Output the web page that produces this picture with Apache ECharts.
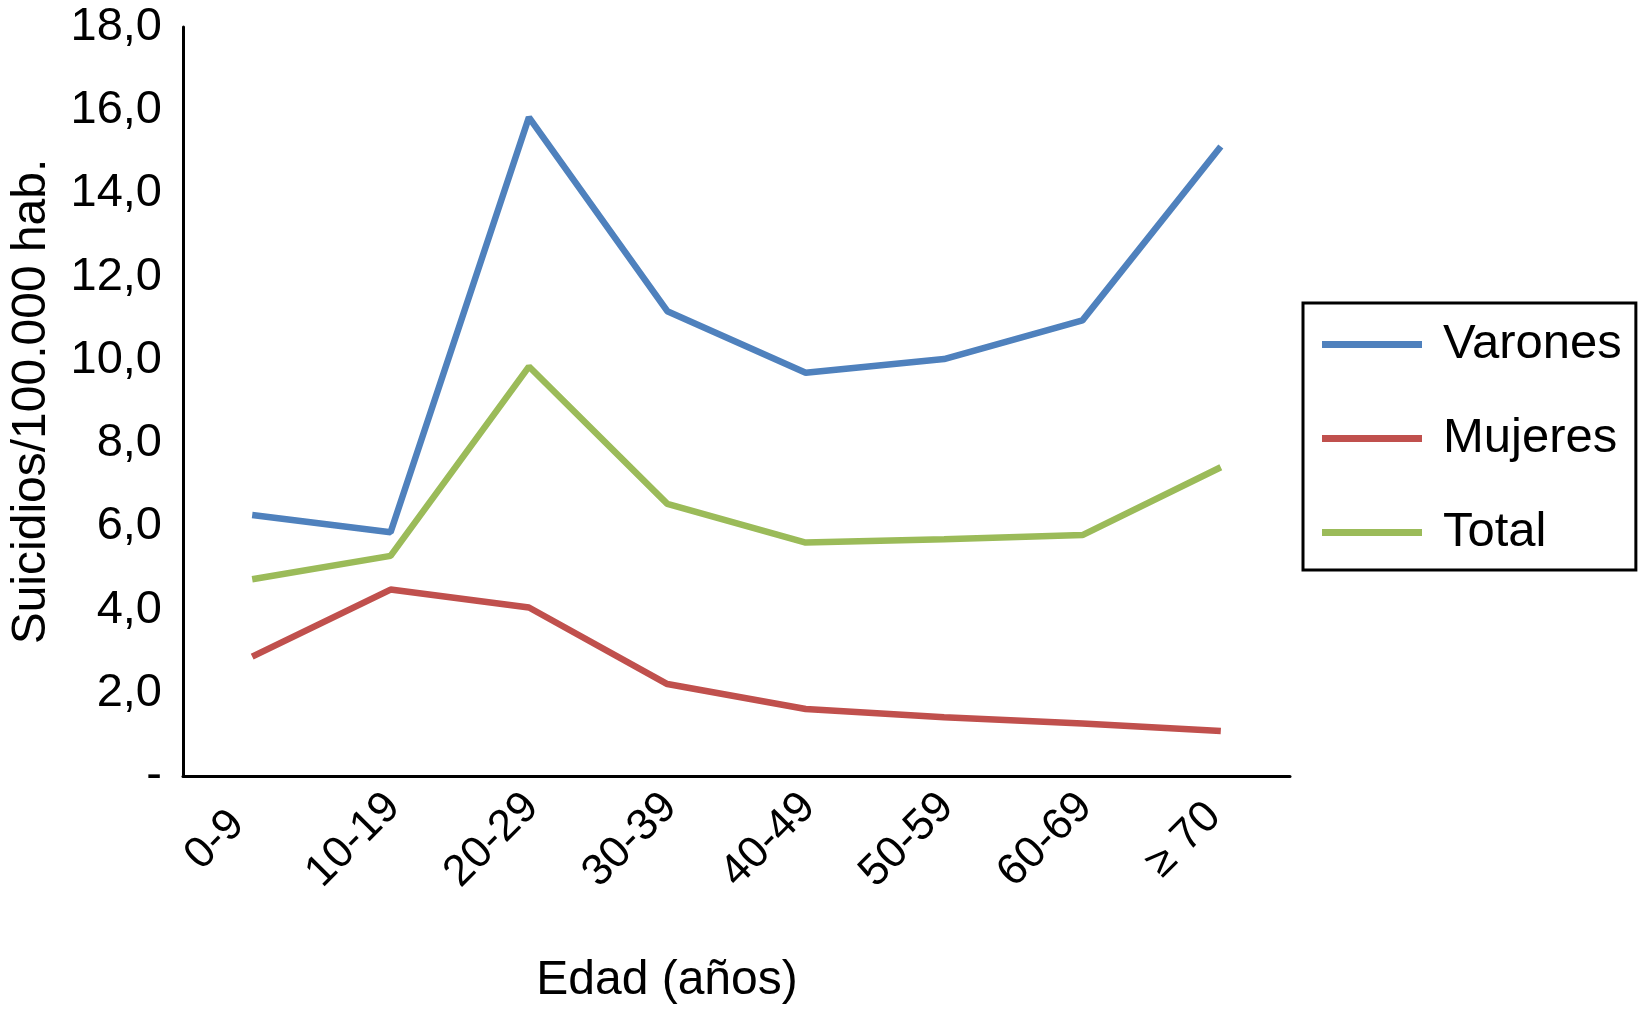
<!DOCTYPE html>
<html>
<head>
<meta charset="utf-8">
<script src="https://cdn.jsdelivr.net/npm/echarts@6/dist/echarts.min.js"></script>
<style>
html,body{margin:0;padding:0;background:#fff;}
#chart{width:1642px;height:1018px;}
</style>
</head>
<body>
<div id="chart"></div>
<script>
var categories = ['0-9','10-19','20-29','30-39','40-49','50-59','60-69','\u2265 70'];
var varones = [6.27, 5.86, 15.83, 11.17, 9.69, 10.02, 10.95, 15.13];
var mujeres = [2.87, 4.48, 4.05, 2.21, 1.61, 1.41, 1.26, 1.08];
var total   = [4.73, 5.29, 9.84, 6.54, 5.61, 5.69, 5.79, 7.42];
var yTickLabels = ['-', '2,0', '4,0', '6,0', '8,0', '10,0', '12,0', '14,0', '16,0', '18,0'];

var FONT = '"Liberation Sans", Arial, Helvetica, sans-serif';
var chart = echarts.init(document.getElementById('chart'), null, {renderer:'canvas'});
chart.setOption({
  animation: false,
  backgroundColor: '#ffffff',
  title: {
    text: 'Edad (a\u00f1os)',
    left: 667,
    top: 957,
    padding: 0,
    textAlign: 'center',
    textStyle: {fontFamily: FONT, fontSize: 48, fontWeight: 'normal', color: '#000'}
  },
  grid: {left: 179, right: 352, top: 27, bottom: 242},
  legend: {
    orient: 'vertical',
    left: 1303,
    top: 303,
    icon: 'rect',
    itemWidth: 100,
    itemHeight: 7,
    itemGap: 45,
    padding: [17, 14, 13, 19],
    borderColor: '#000',
    borderWidth: 3,
    textStyle: {fontFamily: FONT, fontSize: 49, color: '#000', lineHeight: 48, padding: [0, 0, 0, 16]},
    data: ['Varones', 'Mujeres', 'Total']
  },
  xAxis: {
    type: 'category',
    data: categories,
    boundaryGap: true,
    axisLine: {show: true, lineStyle: {color: '#000', width: 3}},
    axisTick: {show: false},
    splitLine: {show: false},
    axisLabel: {
      rotate: 45, margin: 27, interval: 0,
      align: 'center', verticalAlign: 'middle', padding: [0, 105, 0, 0],
      fontFamily: FONT, fontSize: 44, color: '#000'
    }
  },
  yAxis: {
    type: 'value',
    min: 0,
    max: 18,
    interval: 2,
    name: 'Suicidios/100.000 hab.',
    nameLocation: 'middle',
    nameGap: 127,
    nameTextStyle: {fontFamily: FONT, fontSize: 48, color: '#000'},
    axisLine: {show: true, lineStyle: {color: '#000', width: 3}},
    axisTick: {show: false},
    splitLine: {show: false},
    axisLabel: {
      margin: 21, fontFamily: FONT, fontSize: 47, color: '#000',
      formatter: function (v) { var i = Math.round(v / 2); return yTickLabels[i] !== undefined ? yTickLabels[i] : ''; }
    }
  },
  series: [
    {name: 'Varones', type: 'line', data: varones, symbol: 'none', color: '#4F81BD', lineStyle: {color: '#4F81BD', width: 6.5}},
    {name: 'Mujeres', type: 'line', data: mujeres, symbol: 'none', color: '#C0504D', lineStyle: {color: '#C0504D', width: 6.5}},
    {name: 'Total', type: 'line', data: total, symbol: 'none', color: '#9BBB59', lineStyle: {color: '#9BBB59', width: 6.5}}
  ]
});
</script>
</body>
</html>
